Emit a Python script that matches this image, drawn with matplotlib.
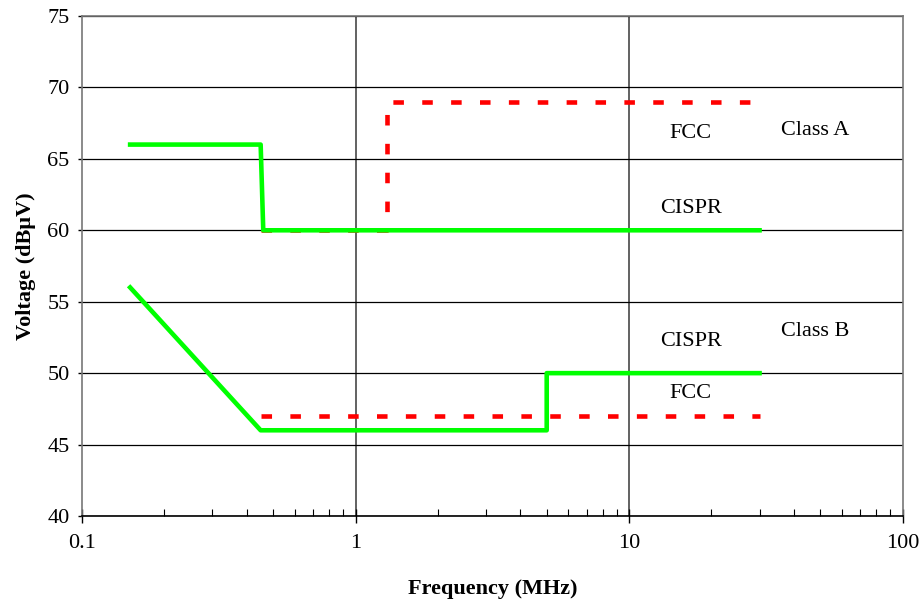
import matplotlib.pyplot as plt
from matplotlib.ticker import LogLocator, NullFormatter, FixedLocator, FixedFormatter

# Limit lines (frequency in MHz, level in dBuV)
fcc_a_f = [0.45, 1.3, 1.3, 30]
fcc_a_v = [60, 60, 69, 69]
cispr_a_f = [0.15, 0.45, 0.46, 30]
cispr_a_v = [66, 66, 60, 60]
cispr_b_f = [0.15, 0.45, 5, 5, 30]
cispr_b_v = [56, 46, 46, 50, 50]
fcc_b_f = [0.45, 30]
fcc_b_v = [47, 47]

# Annotations
labels = ["FCC", "Class A", "CISPR", "CISPR", "Class B", "FCC"]
label_f = [16.8, 48, 16.8, 16.8, 48, 16.8]
label_v = [66.8, 67.0, 61.5, 52.2, 52.9, 48.6]

plt.rcParams['font.family'] = ['Liberation Serif', 'DejaVu Serif']
fs = 16

fig = plt.figure(figsize=(9.21, 6.04), dpi=100)
ax = fig.add_axes([0.089, 0.1457, 0.891, 0.8278])

green = '#00ff00'
red = '#ff0000'
dash = (0, (2.3, 4.0))

ax.plot(fcc_a_f, fcc_a_v, color=red, lw=3.3, linestyle=dash, dash_capstyle='butt', zorder=3)
ax.plot(cispr_a_f, cispr_a_v, color=green, lw=3.3, zorder=4)
ax.plot(cispr_b_f, cispr_b_v, color=green, lw=3.3, zorder=4)
ax.plot(fcc_b_f, fcc_b_v, color=red, lw=3.3, linestyle=dash, dash_capstyle='butt', zorder=5)

for t, f, v in zip(labels, label_f, label_v):
    ax.text(f, v, t, ha='center', va='center', fontsize=fs)

ax.set_xscale('log')
ax.set_xlim(0.1, 100)
ax.set_ylim(40, 75)

ax.xaxis.set_major_locator(FixedLocator([0.1, 1, 10, 100]))
ax.xaxis.set_major_formatter(FixedFormatter(['0.1', '1', '10', '100']))
ax.xaxis.set_minor_locator(LogLocator(base=10, subs=range(2, 10)))
ax.xaxis.set_minor_formatter(NullFormatter())
ax.set_yticks(range(40, 76, 5))

ax.tick_params(axis='x', which='major', direction='inout', length=10, width=1, labelsize=fs, pad=8)
ax.tick_params(axis='x', which='minor', direction='in', length=5, width=0.8)
ax.tick_params(axis='y', which='major', direction='out', length=3, width=1, labelsize=fs, pad=6)

ax.grid(axis='y', color='black', lw=0.9, zorder=1)
for xv in [1, 10]:
    ax.axvline(xv, color='#555555', lw=1.3, zorder=1)

for s in ax.spines.values():
    s.set_color('#777777')
    s.set_linewidth(1.2)
ax.spines['bottom'].set_color('black')

ax.set_xlabel('Frequency (MHz)', fontsize=fs, fontweight='bold', labelpad=19)
ax.set_ylabel('Voltage (dBμV)', fontsize=fs, fontweight='bold', labelpad=8)

fig.savefig('out.png', dpi=100)
